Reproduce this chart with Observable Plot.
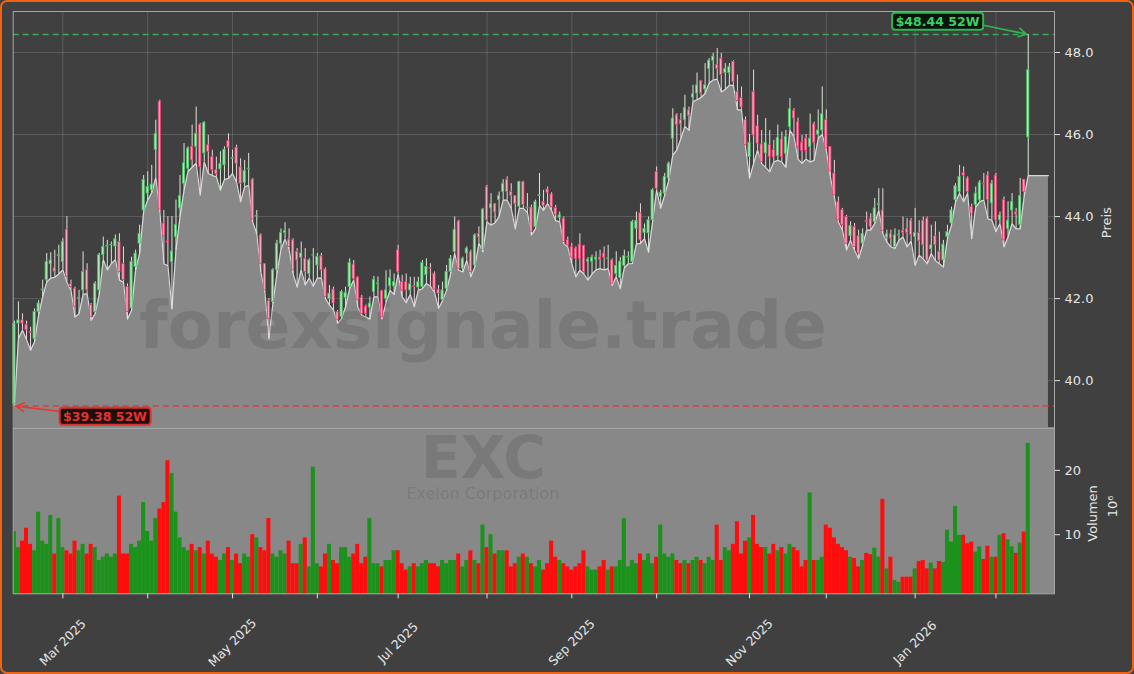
<!DOCTYPE html>
<html><head><meta charset="utf-8">
<script src="https://cdn.jsdelivr.net/npm/d3@7"></script>
<script src="https://cdn.jsdelivr.net/npm/@observablehq/plot@0.6"></script>
<style>
html,body{margin:0;padding:0;background:#404040;}
#frame{position:relative;width:1134px;height:674px;box-sizing:border-box;border:2px solid #f4640f;border-radius:7px;background:#404040;overflow:hidden;font-family:"DejaVu Sans",sans-serif;}
#frame svg{max-width:none !important;overflow:visible;}
#price{position:absolute;left:-2px;top:-2px;}
#vol{position:absolute;left:-2px;top:396px;}
</style>
</head><body>
<div id="frame"><div id="price"></div><div id="vol"></div></div>
<script>
// ---- data (daily candles, trading-day index 0..251, 12 Feb 2025 – 12 Feb 2026) ----
const open = [39.42,41.39,41.47,41.36,41.18,41.02,41.67,42.20,42.45,42.84,42.75,43.04,
42.89,43.68,42.35,42.24,42.00,42.20,42.69,41.84,41.67,42.20,43.06,43.27,
43.30,43.27,43.38,42.84,42.28,41.76,42.77,43.34,44.15,44.56,44.64,45.62,
46.80,43.83,43.40,42.89,43.50,44.20,44.80,45.17,45.70,45.70,46.23,45.54,
45.74,45.45,45.13,45.15,45.25,45.84,45.41,45.68,45.20,44.82,45.15,44.90,
44.00,43.54,42.84,41.94,41.92,42.69,43.34,43.60,43.44,43.42,43.14,43.00,
42.97,42.60,43.05,42.81,43.03,42.71,41.99,42.22,41.67,41.55,42.02,42.28,
42.83,42.51,42.02,41.80,41.78,42.16,42.35,42.18,42.00,42.30,42.30,43.18,
42.40,42.40,42.20,42.30,42.27,42.28,42.57,42.74,42.61,42.22,41.97,42.24,
42.65,43.14,43.88,42.73,43.10,43.14,42.81,43.58,43.18,44.72,44.20,44.30,
44.40,44.60,44.90,44.60,44.50,44.24,44.84,44.20,44.22,43.75,44.50,44.36,
44.66,44.54,44.21,43.97,43.95,43.42,43.26,43.22,43.32,43.28,42.90,42.90,
42.95,43.00,43.10,42.97,42.93,42.60,42.50,42.80,43.00,42.89,43.70,44.08,
43.60,43.59,43.91,45.09,44.48,44.56,44.93,45.90,46.47,46.35,46.35,46.59,
46.90,47.00,47.30,47.10,47.60,47.80,47.70,47.85,47.50,47.50,47.77,47.04,
46.89,46.35,45.45,47.04,46.21,45.76,45.54,45.74,45.62,45.47,45.88,45.53,
46.18,46.57,46.30,45.80,45.90,45.70,46.25,46.00,46.10,46.35,45.70,45.05,
44.36,44.16,43.99,43.52,43.75,43.52,43.34,43.90,43.95,43.87,44.28,44.15,
43.49,43.58,43.26,43.54,43.65,43.70,43.90,43.50,43.60,43.90,43.95,43.20,
43.52,43.14,42.93,43.50,43.83,44.40,44.60,45.06,44.93,44.23,44.28,44.40,
44.80,45.00,44.32,45.00,43.91,44.40,43.70,44.15,44.10,43.80,44.90,45.93];
const high = [41.45,41.92,41.63,41.45,41.30,41.75,41.95,42.45,43.10,43.12,43.18,43.30,
43.46,44.00,42.45,42.28,42.20,43.14,42.85,41.88,42.41,43.10,43.50,43.42,
43.38,43.55,43.58,43.26,42.36,43.01,43.18,43.79,45.00,45.09,45.25,46.35,
46.84,44.15,44.00,44.00,44.40,45.00,45.78,45.70,46.23,46.67,46.27,46.31,
45.98,45.62,45.45,45.58,45.70,46.02,45.62,45.74,45.41,45.37,45.54,44.93,
44.15,43.58,42.85,42.00,42.73,43.42,43.70,43.85,43.70,43.46,43.22,43.38,
43.22,42.97,43.22,43.10,43.10,42.75,42.32,42.28,41.71,42.20,42.28,42.97,
42.93,42.53,42.08,41.84,42.04,42.54,42.53,42.20,42.68,42.70,42.60,43.30,
42.57,42.60,42.52,42.52,42.52,42.93,42.97,42.85,42.65,42.32,42.40,42.81,
43.05,43.99,43.91,43.01,43.26,43.18,43.58,43.75,44.20,44.76,44.56,44.32,
44.60,44.90,44.97,44.80,44.50,44.86,44.86,44.56,44.28,44.40,45.05,44.64,
44.72,44.58,44.27,44.11,43.99,43.50,43.34,43.26,43.58,43.30,43.00,43.06,
43.14,43.18,43.26,43.30,42.97,43.14,43.00,43.18,43.14,43.91,44.11,44.31,
43.82,43.99,44.68,45.21,44.64,45.05,45.33,46.63,46.51,46.51,46.96,46.67,
47.20,47.50,47.32,47.73,47.85,47.98,48.10,47.98,47.73,47.73,47.80,47.45,
47.16,46.43,46.00,47.57,46.47,46.10,46.39,46.10,45.86,46.23,46.06,46.10,
46.88,46.63,46.40,45.98,46.00,46.50,46.30,46.60,47.16,46.60,45.70,45.37,
44.48,44.20,44.03,43.87,43.83,43.67,43.70,44.11,44.07,44.44,44.68,44.68,
43.67,43.67,43.70,43.67,43.99,43.95,43.95,44.20,43.90,43.99,43.99,43.79,
43.87,43.62,43.42,43.79,44.23,44.80,45.25,45.21,44.97,44.30,44.72,44.88,
45.05,45.09,44.88,45.05,44.11,44.48,44.36,44.56,44.20,44.93,44.90,48.44];
const low = [39.38,41.02,41.23,41.00,40.74,40.95,41.60,42.04,42.40,42.50,42.52,42.60,
42.70,42.40,42.20,41.55,41.63,42.10,42.12,41.47,41.63,42.10,42.95,42.70,
42.85,42.95,42.45,42.40,41.50,41.71,42.69,43.10,44.12,44.40,44.58,44.95,
44.12,42.85,42.80,41.75,43.18,43.99,44.64,45.10,45.20,45.30,44.52,45.33,
45.05,45.00,44.97,44.64,44.90,44.93,45.05,44.84,44.36,44.72,44.76,43.87,
43.58,42.65,42.16,41.02,41.88,42.60,43.20,43.45,43.20,42.60,42.28,42.70,
42.33,42.50,42.30,42.50,42.50,42.00,41.84,41.72,41.39,41.51,41.80,42.24,
42.45,41.80,41.59,41.55,41.50,42.04,42.04,41.50,41.90,42.20,42.10,42.60,
42.04,41.90,42.10,41.80,42.20,42.24,42.37,42.30,42.16,41.76,41.95,42.20,
42.60,43.10,42.69,42.65,42.93,42.53,42.77,43.35,43.14,43.87,43.79,43.85,
44.00,44.40,44.40,44.20,43.70,44.20,44.20,44.10,43.55,43.70,44.27,44.15,
44.32,44.15,43.90,43.87,43.34,43.26,42.85,42.53,42.69,42.60,42.45,42.60,
42.70,42.73,42.70,42.73,42.32,42.53,42.24,42.75,42.85,42.85,43.34,43.34,
43.46,43.13,43.87,44.64,44.20,44.52,44.88,45.50,45.62,45.90,46.20,46.10,
46.80,46.85,46.90,47.00,47.25,47.33,47.35,47.04,47.10,47.20,47.20,46.60,
46.60,45.70,44.93,45.29,45.62,45.29,45.20,45.09,45.33,45.37,45.33,45.20,
46.10,45.95,45.40,45.30,45.40,45.33,45.37,45.90,46.00,45.62,44.97,44.48,
43.87,43.67,43.18,43.42,43.18,42.97,43.30,43.67,43.67,43.83,44.15,43.58,
43.38,43.26,43.22,43.42,43.50,43.26,43.40,42.81,43.06,42.97,42.85,43.10,
42.93,42.85,42.77,43.46,43.79,44.36,44.56,44.36,44.56,43.46,44.23,44.36,
44.40,43.95,43.91,43.63,43.83,43.26,43.50,43.83,43.70,43.70,44.50,45.00];
const close = [41.39,41.47,41.39,41.23,41.16,41.67,41.88,42.22,42.89,42.93,42.65,43.06,
43.38,42.54,42.28,41.80,42.02,42.65,42.20,41.55,42.36,43.06,43.26,43.29,
43.31,43.45,42.65,42.45,41.67,42.89,43.10,43.58,44.89,44.72,44.78,46.02,
44.17,43.53,43.36,43.15,43.80,44.50,45.30,45.66,45.37,46.02,45.21,46.29,
45.58,45.13,45.03,45.28,45.63,45.68,45.43,45.28,44.80,45.11,45.17,43.93,
44.02,42.85,42.20,41.51,42.69,43.34,43.60,43.65,43.26,42.69,42.93,43.10,
42.65,42.93,43.06,43.02,42.69,42.04,42.12,41.88,41.47,42.16,42.14,42.87,
42.48,41.96,41.63,41.63,41.88,42.46,42.37,41.55,42.20,42.50,42.40,42.65,
42.20,42.20,42.35,42.28,42.40,42.87,42.77,42.72,42.22,42.12,42.20,42.65,
42.97,43.68,42.73,42.97,43.22,42.65,43.54,43.49,44.17,43.91,44.30,44.10,
44.50,44.80,44.60,44.50,44.30,44.84,44.28,44.22,43.63,44.36,44.52,44.26,
44.58,44.23,44.05,44.03,43.38,43.30,43.00,42.97,42.97,42.65,42.95,43.00,
43.00,42.95,43.00,42.98,42.36,42.80,42.90,43.04,43.02,43.87,43.90,43.42,
43.70,43.91,44.64,44.68,44.58,44.97,45.29,46.39,46.23,46.25,46.65,46.45,
46.98,47.20,47.00,47.20,47.80,47.90,47.60,47.45,47.60,47.65,47.28,46.82,
46.66,45.74,45.80,45.98,45.78,45.33,45.80,45.45,45.44,45.92,45.45,45.94,
46.62,46.39,45.70,45.60,45.60,45.90,45.80,46.10,46.50,45.66,45.10,44.52,
43.91,43.79,43.34,43.77,43.26,43.10,43.58,43.87,43.75,44.20,44.30,43.65,
43.57,43.46,43.54,43.56,43.60,43.60,43.55,43.60,43.40,43.30,42.93,43.30,
43.30,42.93,43.32,43.62,44.15,44.74,44.97,45.00,44.60,44.07,44.56,44.83,
44.78,44.40,44.80,43.91,44.03,43.42,43.90,44.36,44.05,44.50,44.60,47.57];
const volume = [10.5,8,9,11,8.5,7.5,13.5,9,8.5,13,7,12.5,
8,7.5,7,9,7.5,8.5,7,8.5,8,6,6.5,7,
6.5,7,16,7,7,8.5,8,9,15,10.5,9,12.5,
14,15,21.5,19.5,13.5,9.5,8,7.5,8.5,7.5,8,7,
9,7,6.5,6,7,8,6,7,5.5,7,6.5,10,
9.5,8,7.5,12.5,7,6.5,7.5,7,9,5.5,5.5,8.5,
9.5,5,20.5,5.5,5,7,8.5,6,5.5,8,8,6.5,
7,8.5,5.5,6.5,12.5,5.5,5.5,5,6,6,7.5,7.5,
5.5,4.5,5,5.5,5,5.5,6,5.5,5.5,5,6,5.5,
6,6,7,5,6,7.5,6,5.5,11.5,8,10,7,
7.5,7.5,7.5,5,5.5,6.5,7,6.5,5.5,5,6,4.5,
5.5,9,6.5,6,5.5,5,4.5,5,5.5,7.5,5,4.5,
4.5,5,6,4.5,5,5,6,12.5,5,6,5.5,7,
6,7,5.5,6.5,11.5,7,6.5,7,6,5.5,6,5.5,
6,6.5,6,5.5,6.5,6,11.5,6,8,7.5,8.5,12,
7,9,9.5,13,8.5,8,8,7,8.5,7.5,8,7,
8.5,8,7.5,5,6,16.5,6,6,6.5,11.5,11,9.5,
8.5,8,7.5,6.5,6.3,5.0,6.0,7.1,6.9,7.9,6.5,15.5,
4.7,6.5,2.9,2.6,3.4,3.4,3.4,4.7,5.85,6.0,4.7,5.6,
4.7,5.85,5.7,10.7,8.85,14.4,9.9,9.9,8.6,8.85,7.3,8.1,
6.15,8.2,6.5,6.5,9.9,10.15,9.2,8.1,7.1,8.7,10.4,24.2];
const monthTickIdx = [12,33,54,75,95,117,138,159,182,201,223,243];
const monthTickLabels = ["Mar 2025","","May 2025","","Jul 2025","","Sep 2025","","Nov 2025","","Jan 2026",""];
const priceTicks = [40,42,44,46,48];
const volumeTicks = [10,20];

// ---- layout / styles ----
const W = 1134;
const xDomain = [-0.3, 257.5];
const priceDomain = [38.85, 49.0];
const volDomain = [0.82, 26.5];
const txt = "#e4e4e4";
const font = "DejaVu Sans, sans-serif";

const candles = open.map((o, i) => ({i, open: o, high: high[i], low: low[i], close: close[i], volume: volume[i], up: close[i] >= o}));
const last = candles[candles.length - 1];
const areaData = [...candles, {i: last.i + 5, low: last.low}];
const hiC = candles.reduce((a, b) => b.high > a.high ? b : a);
const loC = candles.reduce((a, b) => b.low < a.low ? b : a);
const hiLabel = `$${hiC.high.toFixed(2)} 52W`;
const loLabel = `$${loC.low.toFixed(2)} 52W`;
const monthTicks = monthTickIdx.map((i, k) => ({i, label: monthTickLabels[k]}));

const wmStyle = {fill: "#303030", fillOpacity: 0.17, fontWeight: "bold", fontFamily: font, textAnchor: "middle", lineAnchor: "middle"};
const cText = {textAnchor: "middle", lineAnchor: "middle"};

const pricePlot = Plot.plot({
  width: W, height: 428,
  marginLeft: 12.7, marginRight: 80, marginTop: 11, marginBottom: 0.7,
  style: {background: "transparent", color: txt, fontFamily: font, fontSize: "13px", maxWidth: "none", overflow: "visible"},
  x: {domain: xDomain, axis: null},
  y: {domain: priceDomain, axis: null},
  marks: [
    Plot.gridY(priceTicks, {stroke: "#ffffff", strokeOpacity: 0.15}),
    Plot.gridX(monthTickIdx, {stroke: "#ffffff", strokeOpacity: 0.15}),
    Plot.areaY(areaData, {x: "i", y: "low", fill: "#888888", clip: true}),
    Plot.lineY(areaData, {x: "i", y: "low", stroke: "#d8d8d8", strokeWidth: 1.2}),
    Plot.text(["forexsignale.trade"], {frameAnchor: "middle", dx: -51, dy: 107, fontSize: 66, ...wmStyle}),
    Plot.ruleY([hiC.high], {stroke: "#3aa85a", strokeWidth: 1.5, strokeDasharray: "6,4"}),
    Plot.ruleY([loC.low], {stroke: "#d6403c", strokeWidth: 1.5, strokeDasharray: "6,4"}),
    Plot.ruleX(candles, {x: "i", y1: "low", y2: "high", stroke: d => d.up ? "#d6e8d6" : "#ecd4da", strokeWidth: 1}),
    Plot.rect(candles, {x1: d => d.i - 0.28, x2: d => d.i + 0.28, y1: "open", y2: "close",
      fill: d => d.up ? "#b4e4b8" : "#f4aabc", stroke: d => d.up ? "#44bc60" : "#e63a6c", strokeWidth: 0.8}),
    Plot.frame({stroke: "#a6a6a6", strokeWidth: 1}),
    Plot.axisY(priceTicks, {anchor: "right", tickSize: 5, tickPadding: 5, tickFormat: d3.format(".1f"), label: null, color: txt, fontSize: 13}),
    Plot.text(["Preis"], {frameAnchor: "right", dx: 52, dy: 3, rotate: -90, fill: txt, fontSize: 13, ...cText}),
    // 52-week annotations
    Plot.arrow([{x1: 239.9, y1: 48.666, x2: hiC.i, y2: hiC.high}], {x1: "x1", y1: "y1", x2: "x2", y2: "y2", stroke: "#2fb552", strokeWidth: 1.6, headLength: 8, insetEnd: 2}),
    Plot.arrow([{x1: 11.2, y1: 39.25, x2: loC.i, y2: loC.low}], {x1: "x1", y1: "y1", x2: "x2", y2: "y2", stroke: "#e03a34", strokeWidth: 1.6, headLength: 8, insetEnd: 2}),
    Plot.text([hiLabel], {x: hiC.i, y: hiC.high, dx: -90.7, dy: -12.8, fill: "#3ccf63", fontWeight: "bold", fontSize: 12.5, fontFamily: font, ...cText}),
    Plot.text([loLabel], {x: loC.i, y: loC.low, dx: 90.6, dy: 10.8, fill: "#e8322e", fontWeight: "bold", fontSize: 12.5, fontFamily: font, ...cText})
  ]
});

// volume panel: SVG starts 30px above the panel so the watermark fits inside it
const volPlot = Plot.plot({
  width: W, height: 276,
  marginLeft: 12.7, marginRight: 80, marginTop: 30, marginBottom: 80.7,
  style: {background: "transparent", color: txt, fontFamily: font, fontSize: "13px", maxWidth: "none", overflow: "visible"},
  x: {domain: xDomain, axis: null},
  y: {domain: volDomain, axis: null},
  marks: [
    Plot.frame({fill: "#888888"}),
    Plot.text(["EXC"], {frameAnchor: "top", dx: -50.4, dy: 31, fontSize: 58, ...wmStyle}),
    Plot.text(["Exelon Corporation"], {frameAnchor: "top", dx: -51, dy: 65, fontSize: 16, fill: "#303030", fillOpacity: 0.17, fontFamily: font, ...cText}),
    Plot.rect(candles, {x1: d => d.i - 0.5, x2: d => d.i + 0.5, y1: () => 0, y2: "volume", fill: d => d.up ? "#1c921c" : "#ff0d0d", clip: true}),
    Plot.frame({stroke: "#a6a6a6", strokeWidth: 1}),
    Plot.axisY(volumeTicks, {anchor: "right", tickSize: 5, tickPadding: 5, tickFormat: d3.format("d"), label: null, color: txt, fontSize: 13}),
    Plot.axisX(monthTickIdx, {anchor: "bottom", tickSize: 5, tickFormat: () => "", label: null, color: txt}),
    Plot.text(monthTicks.filter(d => d.label), {x: "i", text: "label", frameAnchor: "bottom", dy: 49, rotate: -45, fill: txt, fontSize: 12.5, ...cText}),
    Plot.text(["Volumen"], {frameAnchor: "right", dx: 38, dy: 2.3, rotate: -90, fill: txt, fontSize: 13, ...cText}),
    Plot.text(["10⁶"], {frameAnchor: "right", dx: 58, dy: -4.7, rotate: -90, fill: txt, fontSize: 13, ...cText})
  ]
});

document.getElementById("price").appendChild(pricePlot);
document.getElementById("vol").appendChild(volPlot);

// boxes behind the 52W labels
function boxify(svg, label, fill, stroke) {
  svg.querySelectorAll("text").forEach(t => {
    if (t.textContent !== label) return;
    const b = t.getBBox();
    const r = document.createElementNS("http://www.w3.org/2000/svg", "rect");
    r.setAttribute("x", b.x - 3.5); r.setAttribute("y", b.y - 1);
    r.setAttribute("width", b.width + 7); r.setAttribute("height", b.height + 2);
    r.setAttribute("rx", 3);
    r.setAttribute("fill", fill); r.setAttribute("stroke", stroke); r.setAttribute("stroke-width", 2);
    const tr = t.getAttribute("transform"); if (tr) r.setAttribute("transform", tr);
    t.parentNode.insertBefore(r, t);
  });
}
boxify(pricePlot, hiLabel, "#08150c", "#2fb552");
boxify(pricePlot, loLabel, "#1e0f0f", "#d8332f");
</script>
</body></html>
